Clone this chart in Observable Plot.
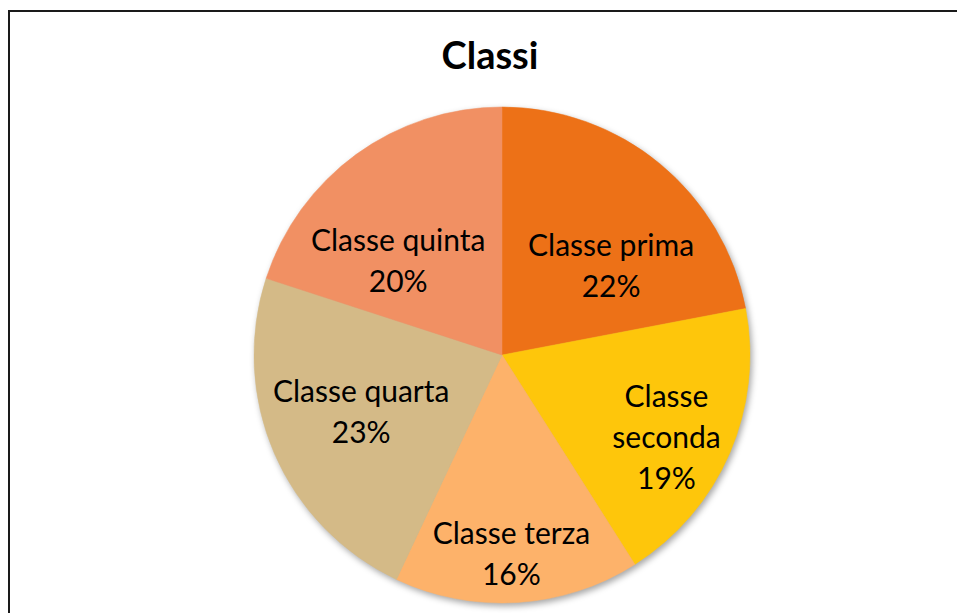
<!DOCTYPE html>
<html>
<head>
<meta charset="utf-8">
<script src="https://cdn.jsdelivr.net/npm/d3@7"></script>
<script src="https://cdn.jsdelivr.net/npm/@observablehq/plot@0.6"></script>
<style>
  html, body { margin: 0; padding: 0; background: #fff; }
  #wrap { position: relative; width: 957px; height: 613px; overflow: hidden; }
  #frame { position: absolute; left: 8px; top: 10px; width: 1000px; height: 700px;
           border-left: 2.5px solid #1a1a1a; border-top: 2.5px solid #1a1a1a; box-sizing: border-box; }
  #chart { position: absolute; left: 0; top: 0; }
</style>
</head>
<body>
<div id="wrap"><div id="frame"></div><div id="chart"></div></div>
<script>
const title = "Classi";
const categories = ["Classe prima", "Classe seconda", "Classe terza", "Classe quarta", "Classe quinta"];
const labelTexts = ["Classe prima", "Classe\nseconda", "Classe terza", "Classe quarta", "Classe quinta"];
const percents = [22, 19, 16, 23, 20];
const colors = ["#ED7117", "#FEC60B", "#FDB26A", "#D4BA87", "#F19063"];

// style: label placement (fraction of radius, angular nudge in degrees)
const labelRadius = [0.575, 0.735, 0.79, 0.61, 0.575];
const labelNudge = [10, 2.5, 1, 2.5, -11];

const W = 957, H = 613, cx = 502, cy = 355, R = 248;

const pie = d3.pie().sort(null).value(d => d.value)(
  categories.map((c, i) => ({category: c, value: percents[i], label: labelTexts[i] + "\n" + percents[i] + "%", lr: labelRadius[i], ln: labelNudge[i]}))
);
const labels = pie.map(p => {
  const mid = (p.startAngle + p.endAngle) / 2 + p.data.ln * Math.PI / 180;
  return {category: p.data.category, text: p.data.label, x: p.data.lr * Math.sin(mid), y: p.data.lr * Math.cos(mid)};
});

const pieMark = (index, scales, values, dimensions) => {
  const x0 = scales.x(0), y0 = scales.y(0);
  const r = scales.x(1) - scales.x(0);
  const arc = d3.arc().innerRadius(0).outerRadius(r);
  const g = d3.create("svg:g").attr("transform", `translate(${x0},${y0})`)
    .style("filter", "drop-shadow(2px 3px 3px rgba(0,0,0,0.35))");
  g.selectAll("path").data(pie).join("path")
    .attr("d", arc)
    .attr("fill", d => scales.color(d.data.category))
    .attr("stroke", d => scales.color(d.data.category))
    .attr("stroke-width", 0.5);
  return g.node();
};

const plot = Plot.plot({
  width: W, height: H,
  margin: 0,
  x: {domain: [-cx / R, (W - cx) / R], axis: null},
  y: {domain: [-(H - cy) / R, cy / R], axis: null},
  color: {domain: categories, range: colors},
  style: {background: "transparent", fontFamily: "Lato, sans-serif"},
  marks: [
    pieMark,
    Plot.text(labels, {x: "x", y: "y", text: "text", fontSize: 30, lineHeight: 1.36, fill: "#000", textAnchor: "middle", lineAnchor: "middle"}),
    Plot.text([title], {frameAnchor: "top", dx: 11, dy: 42, lineAnchor: "top", fontSize: 38, fontWeight: "bold", fill: "#000"})
  ]
});
document.getElementById("chart").appendChild(plot);
</script>
</body>
</html>
